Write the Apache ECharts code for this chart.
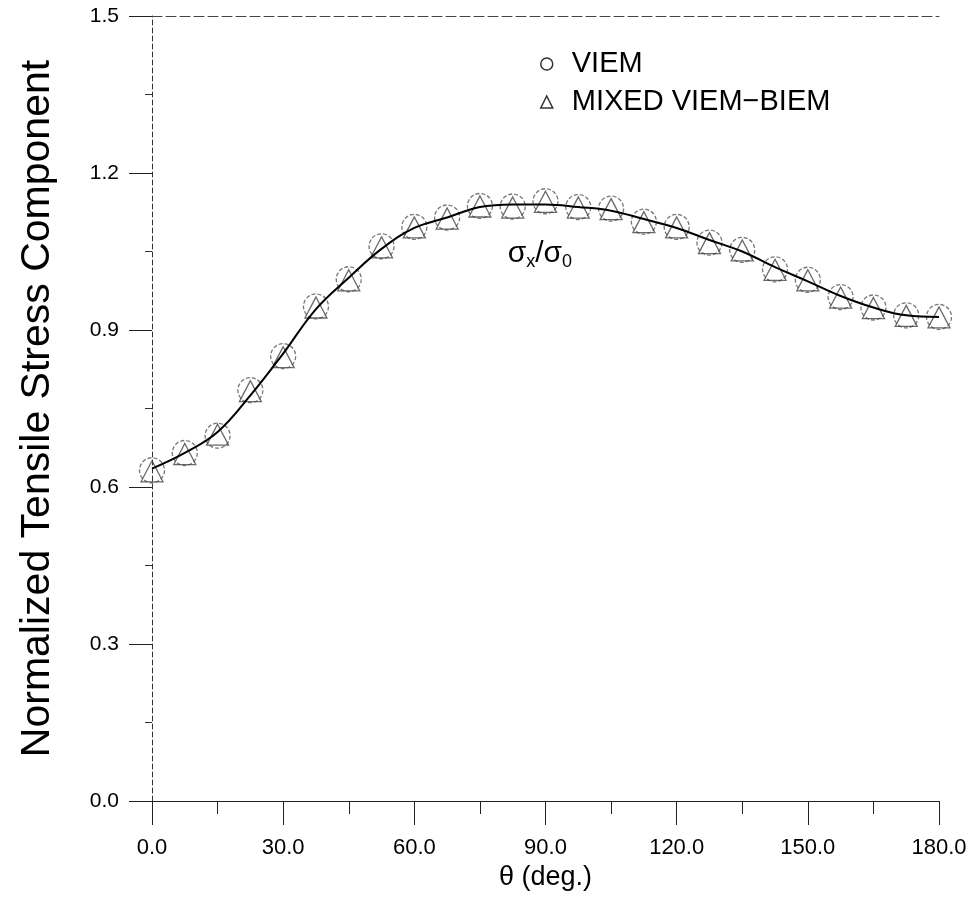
<!DOCTYPE html>
<html>
<head>
<meta charset="utf-8">
<script src="https://cdn.jsdelivr.net/npm/echarts@6/dist/echarts.min.js"></script>
<style>
html, body { margin: 0; padding: 0; background: #fff; }
#chart { width: 977px; height: 897px; }
</style>
</head>
<body>
<div id="chart"></div>
<script>
// 角度 (deg.)
var theta = [0, 7.5, 15, 22.5, 30, 37.5, 45, 52.5, 60, 67.5, 75, 82.5, 90,
             97.5, 105, 112.5, 120, 127.5, 135, 142.5, 150, 157.5, 165, 172.5, 180];

// VIEM 结果 (圆圈)
var viem = [0.632, 0.665, 0.698, 0.785, 0.850, 0.945, 0.997, 1.060, 1.097, 1.115, 1.137, 1.136, 1.146,
            1.135, 1.132, 1.107, 1.097, 1.067, 1.053, 1.016, 0.996, 0.963, 0.943, 0.928, 0.925];

// MIXED VIEM-BIEM 结果 (三角)
var mixed = [0.630, 0.663, 0.700, 0.783, 0.848, 0.943, 0.995, 1.058, 1.096, 1.113, 1.136, 1.134, 1.145,
             1.134, 1.131, 1.106, 1.096, 1.066, 1.052, 1.015, 0.995, 0.962, 0.942, 0.927, 0.924];

// 实线
var curve = [0.635, 0.665, 0.705, 0.775, 0.855, 0.940, 1.000, 1.055, 1.095, 1.115, 1.135, 1.140, 1.140,
             1.135, 1.128, 1.112, 1.095, 1.072, 1.050, 1.020, 0.993, 0.965, 0.943, 0.928, 0.925];

var yTicks = [0.0, 0.3, 0.6, 0.9, 1.2, 1.5];
var xTicks = [0, 30, 60, 90, 120, 150, 180];

// 曲线标注位置
var sigmaPos = [88.7, 1.045];

var seriesNames = ['VIEM', 'MIXED VIEM\u2212BIEM'];

function pairs(xs, ys) {
    var out = [];
    for (var i = 0; i < xs.length; i++) {
        out.push([xs[i], ys[i]]);
    }
    return out;
}

var sans = "'Liberation Sans', Arial, sans-serif";
var narrow = "'Liberation Sans Narrow', 'Liberation Sans', Arial, sans-serif";

var chart = echarts.init(document.getElementById('chart'));

var option = {
    backgroundColor: '#fff',
    animation: false,
    grid: {
        left: 152,
        right: 38,
        top: 16,
        bottom: 96,
        outerBoundsMode: 'none'
    },
    legend: {
        orient: 'vertical',
        left: 535,
        top: 44,
        itemWidth: 12,
        itemHeight: 12,
        itemGap: 8,
        data: seriesNames,
        itemStyle: {
            color: '#fff',
            borderColor: '#000',
            borderWidth: 1.5
        },
        textStyle: {
            fontFamily: sans,
            fontSize: 29,
            color: '#000',
            lineHeight: 30,
            padding: [0, 0, 0, 14]
        }
    },
    xAxis: [{
        type: 'value',
        min: xTicks[0],
        max: xTicks[xTicks.length - 1],
        interval: 30,
        name: '\u03b8 (deg.)',
        nameLocation: 'middle',
        nameGap: 52,
        nameTextStyle: {
            fontFamily: sans,
            fontSize: 27,
            color: '#000'
        },
        axisLine: { show: true, onZero: false, lineStyle: { color: '#222', width: 1.2 } },
        axisTick: { show: true, inside: false, length: 24, lineStyle: { color: '#222', width: 1 } },
        minorTick: { show: true, splitNumber: 2, length: 13, lineStyle: { color: '#222', width: 1 } },
        axisLabel: {
            margin: 36,
            fontFamily: narrow,
            fontSize: 22,
            color: '#000',
            formatter: function (v) { return v.toFixed(1); }
        },
        splitLine: { show: false },
        minorSplitLine: { show: false }
    }, {
        // 顶部虚线边框
        type: 'value',
        position: 'top',
        min: xTicks[0],
        max: xTicks[xTicks.length - 1],
        interval: 30,
        axisLine: { show: true, onZero: false, lineStyle: { color: '#444', width: 1, type: [10, 4] } },
        axisTick: { show: false },
        axisLabel: { show: false },
        splitLine: { show: false }
    }],
    yAxis: {
        type: 'value',
        min: yTicks[0],
        max: yTicks[yTicks.length - 1],
        interval: 0.3,
        name: 'Normalized Tensile Stress Component',
        nameLocation: 'middle',
        nameRotate: 90,
        nameGap: 94,
        nameTextStyle: {
            fontFamily: sans,
            fontSize: 41,
            color: '#000'
        },
        axisLine: { show: true, onZero: false, lineStyle: { color: '#333', width: 1, type: [5, 3] } },
        axisTick: { show: true, inside: false, length: 23, lineStyle: { color: '#222', width: 1 } },
        minorTick: { show: true, splitNumber: 2, length: 7, lineStyle: { color: '#333', width: 1 } },
        axisLabel: {
            margin: 33,
            fontFamily: sans,
            fontSize: 21,
            color: '#000',
            formatter: function (v) { return v.toFixed(1); }
        },
        splitLine: { show: false },
        minorSplitLine: { show: false }
    },
    series: [{
        name: seriesNames[0],
        type: 'scatter',
        symbol: 'circle',
        symbolSize: 25,
        data: pairs(theta, viem),
        itemStyle: {
            color: 'rgba(255,255,255,0)',
            borderColor: '#555',
            borderWidth: 1.3,
            borderType: [4, 2]
        },
        z: 2
    }, {
        name: seriesNames[1],
        type: 'scatter',
        symbol: 'triangle',
        symbolSize: [22, 21],
        data: pairs(theta, mixed),
        itemStyle: {
            color: 'rgba(255,255,255,0)',
            borderColor: '#444',
            borderWidth: 1.3
        },
        z: 2
    }, {
        name: 'curve',
        type: 'line',
        smooth: 0.4,
        showSymbol: false,
        symbol: 'none',
        data: pairs(theta, curve),
        lineStyle: { color: '#000', width: 2 },
        z: 3,
        markPoint: {
            symbol: 'circle',
            symbolSize: 0,
            silent: true,
            data: [{ coord: sigmaPos }],
            label: {
                show: true,
                position: 'inside',
                formatter: '{s|\u03c3}{b|x}{s|/\u03c3}{b|0}',
                rich: {
                    s: { fontFamily: sans, fontSize: 30, color: '#000', lineHeight: 34 },
                    b: { fontFamily: sans, fontSize: 18, color: '#000', verticalAlign: 'bottom', lineHeight: 34 }
                }
            }
        }
    }]
};

chart.setOption(option);
</script>
</body>
</html>
